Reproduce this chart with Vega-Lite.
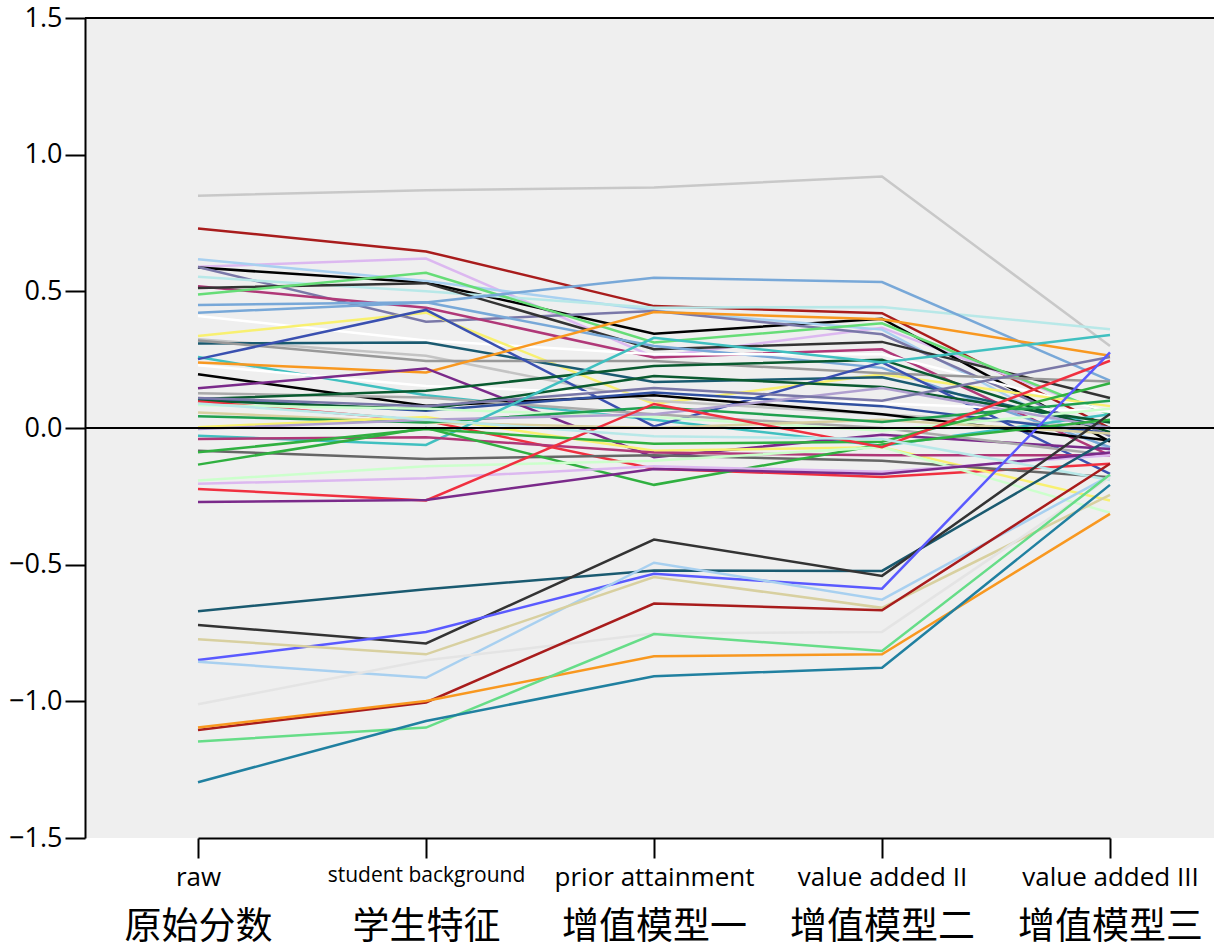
{
  "$schema": "https://vega.github.io/schema/vega-lite/v6.json",
  "width": 1129,
  "height": 820,
  "autosize": "none",
  "padding": {"left": 85, "top": 18, "right": 0, "bottom": 110},
  "background": "white",
  "config": {"view": {"fill": "#efefef", "stroke": null}, "font": "Open Sans"},
  "data": {"values": [
    {"s":"c01","raw":0.85,"student background":0.87,"prior attainment":0.88,"value added II":0.92,"value added III":0.30},
    {"s":"c02","raw":0.73,"student background":0.646,"prior attainment":0.446,"value added II":0.42,"value added III":0.0},
    {"s":"c03","raw":0.59,"student background":0.62,"prior attainment":0.26,"value added II":0.367,"value added III":0.05},
    {"s":"c04","raw":0.587,"student background":0.532,"prior attainment":0.345,"value added II":0.40,"value added III":-0.05},
    {"s":"c05","raw":0.617,"student background":0.538,"prior attainment":0.43,"value added II":0.36,"value added III":-0.08},
    {"s":"c06","raw":0.589,"student background":0.389,"prior attainment":0.428,"value added II":0.343,"value added III":-0.03},
    {"s":"c07","raw":0.553,"student background":0.50,"prior attainment":0.44,"value added II":0.443,"value added III":0.361},
    {"s":"c08","raw":0.519,"student background":0.44,"prior attainment":0.258,"value added II":0.288,"value added III":-0.10},
    {"s":"c09","raw":0.512,"student background":0.53,"prior attainment":0.288,"value added II":0.315,"value added III":0.11},
    {"s":"c10","raw":0.488,"student background":0.568,"prior attainment":0.313,"value added II":0.383,"value added III":0.05},
    {"s":"c11","raw":0.422,"student background":0.459,"prior attainment":0.55,"value added II":0.534,"value added III":0.173},
    {"s":"c12","raw":0.45,"student background":0.46,"prior attainment":0.30,"value added II":0.22,"value added III":-0.07},
    {"s":"c13","raw":0.41,"student background":0.32,"prior attainment":0.27,"value added II":0.27,"value added III":0.06},
    {"s":"c14","raw":0.337,"student background":0.422,"prior attainment":0.088,"value added II":0.197,"value added III":0.08},
    {"s":"c15","raw":0.325,"student background":0.264,"prior attainment":0.10,"value added II":0.05,"value added III":0.0},
    {"s":"c16","raw":0.309,"student background":0.313,"prior attainment":0.168,"value added II":0.186,"value added III":0.0},
    {"s":"c17","raw":0.32,"student background":0.245,"prior attainment":0.245,"value added II":0.2,"value added III":0.17},
    {"s":"c18","raw":0.26,"student background":0.12,"prior attainment":0.03,"value added II":-0.065,"value added III":0.05},
    {"s":"c19","raw":0.252,"student background":0.432,"prior attainment":0.006,"value added II":0.24,"value added III":-0.168},
    {"s":"c20","raw":0.24,"student background":0.203,"prior attainment":0.424,"value added II":0.398,"value added III":0.264},
    {"s":"c21","raw":0.23,"student background":0.154,"prior attainment":0.12,"value added II":0.09,"value added III":0.06},
    {"s":"c22","raw":0.197,"student background":0.081,"prior attainment":0.12,"value added II":0.05,"value added III":-0.046},
    {"s":"c23","raw":0.145,"student background":0.218,"prior attainment":-0.107,"value added II":-0.025,"value added III":-0.077},
    {"s":"c24","raw":0.127,"student background":0.112,"prior attainment":0.05,"value added II":0.0,"value added III":-0.1},
    {"s":"c25","raw":0.106,"student background":0.136,"prior attainment":0.227,"value added II":0.25,"value added III":-0.015},
    {"s":"c26","raw":0.108,"student background":0.063,"prior attainment":0.13,"value added II":0.08,"value added III":-0.02},
    {"s":"c27","raw":0.10,"student background":0.069,"prior attainment":0.19,"value added II":0.15,"value added III":0.02},
    {"s":"c28","raw":0.097,"student background":0.027,"prior attainment":-0.149,"value added II":-0.179,"value added III":-0.131},
    {"s":"c29","raw":0.084,"student background":0.07,"prior attainment":0.04,"value added II":-0.01,"value added III":0.07},
    {"s":"c30","raw":0.057,"student background":0.02,"prior attainment":0.0,"value added II":0.03,"value added III":-0.02},
    {"s":"c31","raw":0.043,"student background":0.02,"prior attainment":0.076,"value added II":0.022,"value added III":0.10},
    {"s":"c32","raw":0.003,"student background":0.04,"prior attainment":-0.083,"value added II":-0.07,"value added III":-0.265},
    {"s":"c33","raw":-0.004,"student background":0.03,"prior attainment":0.05,"value added II":0.146,"value added III":0.0},
    {"s":"c34","raw":0.11,"student background":0.08,"prior attainment":0.146,"value added II":0.10,"value added III":0.26},
    {"s":"c35","raw":-0.028,"student background":-0.062,"prior attainment":0.33,"value added II":0.24,"value added III":0.34},
    {"s":"c36","raw":-0.04,"student background":-0.034,"prior attainment":-0.09,"value added II":-0.1,"value added III":-0.1},
    {"s":"c37","raw":-0.083,"student background":-0.113,"prior attainment":-0.1,"value added II":-0.12,"value added III":-0.18},
    {"s":"c38","raw":-0.089,"student background":-0.004,"prior attainment":-0.058,"value added II":-0.05,"value added III":0.164},
    {"s":"c39","raw":-0.134,"student background":0.0,"prior attainment":-0.208,"value added II":-0.06,"value added III":0.03},
    {"s":"c40","raw":-0.192,"student background":-0.14,"prior attainment":-0.12,"value added II":-0.07,"value added III":-0.31},
    {"s":"c41","raw":-0.204,"student background":-0.184,"prior attainment":-0.14,"value added II":-0.16,"value added III":-0.1},
    {"s":"c42","raw":-0.223,"student background":-0.265,"prior attainment":0.088,"value added II":-0.07,"value added III":0.246},
    {"s":"c43","raw":-0.271,"student background":-0.263,"prior attainment":-0.15,"value added II":-0.168,"value added III":-0.09},
    {"s":"c44","raw":0.09,"student background":0.03,"prior attainment":-0.03,"value added II":-0.04,"value added III":-0.19},
    {"s":"c45","raw":-0.67,"student background":-0.59,"prior attainment":-0.521,"value added II":-0.523,"value added III":-0.04},
    {"s":"c46","raw":-0.721,"student background":-0.788,"prior attainment":-0.408,"value added II":-0.541,"value added III":0.051},
    {"s":"c47","raw":-0.849,"student background":-0.746,"prior attainment":-0.533,"value added II":-0.588,"value added III":0.277},
    {"s":"c48","raw":-0.855,"student background":-0.914,"prior attainment":-0.493,"value added II":-0.628,"value added III":-0.174},
    {"s":"c49","raw":-0.773,"student background":-0.828,"prior attainment":-0.545,"value added II":-0.658,"value added III":-0.245},
    {"s":"c50","raw":-1.011,"student background":-0.85,"prior attainment":-0.752,"value added II":-0.746,"value added III":-0.18},
    {"s":"c51","raw":-1.105,"student background":-1.004,"prior attainment":-0.642,"value added II":-0.667,"value added III":-0.131},
    {"s":"c52","raw":-1.096,"student background":-0.999,"prior attainment":-0.835,"value added II":-0.828,"value added III":-0.314},
    {"s":"c53","raw":-1.147,"student background":-1.096,"prior attainment":-0.754,"value added II":-0.816,"value added III":-0.17},
    {"s":"c54","raw":-1.296,"student background":-1.072,"prior attainment":-0.908,"value added II":-0.877,"value added III":-0.208}
  ]},
  "transform": [{"fold": ["raw","student background","prior attainment","value added II","value added III"], "as": ["m","v"]}],
  "layer": [
    {
      "mark": {"type": "line", "strokeWidth": 2.5},
      "encoding": {
        "x": {"field": "m", "type": "ordinal", "sort": ["raw","student background","prior attainment","value added II","value added III"],
              "scale": {"type": "point", "range": [113, 1025], "padding": 0},
              "axis": {"orient": "bottom", "title": null, "labelAngle": 0, "labelLimit": 0, "labelFontSize": {"condition": {"test": "datum.value == 'student background'", "value": 21}, "value": 26},
                       "labelColor": "black", "labelPadding": 6, "labelOverlap": false, "labelFlush": false,
                       "domainColor": "black", "domainWidth": 2, "tickColor": "black", "tickWidth": 2, "tickSize": 20}},
        "y": {"field": "v", "type": "quantitative", "scale": {"domain": [-1.5, 1.5], "nice": false},
              "axis": {"title": null, "values": [-1.5,-1,-0.5,0,0.5,1,1.5], "format": ".1f", "grid": false, "labelFontSize": 27, "labelColor": "black",
                       "labelPadding": 3, "domainColor": "black", "domainWidth": 2, "tickColor": "black", "tickWidth": 2, "tickSize": 20}},
        "color": {"field": "s", "type": "nominal", "legend": null,
                  "scale": {"domain": ["c01","c02","c03","c04","c05","c06","c07","c08","c09","c10","c11","c12","c13","c14","c15","c16","c17","c18","c19","c20","c21","c22","c23","c24","c25","c26","c27","c28","c29","c30","c31","c32","c33","c34","c35","c36","c37","c38","c39","c40","c41","c42","c43","c44","c45","c46","c47","c48","c49","c50","c51","c52","c53","c54"],
                            "range": ["#c8c8c8","#a81c1c","#dcb8f0","#000000","#a8d0f0","#7a78a8","#b8e8e8","#b03878","#333333","#66dd77","#78a8d8","#78a8d8","#ffffff","#f8f070","#c4c4c4","#1a5a70","#999999","#40c0c0","#3a50b0","#f89820","#ffffff","#000000","#7a2a8a","#aaaaaa","#0a5a30","#3050a0","#0a5a30","#f03040","#ccffcc","#d8d0a0","#20a050","#f8f070","#b0a0d0","#7a78a8","#40c0c0","#b03878","#666666","#30b040","#30b040","#ccffcc","#dcb8f0","#f03040","#7a2a8a","#b8e8e8","#1a5a70","#333333","#5a5aff","#a8d0f0","#d8d0a0","#e4e4e4","#a81c1c","#f89820","#66dd88","#2080a0"]}}
      }
    },
    {
      "mark": {"type": "point", "opacity": 0},
      "encoding": {
        "x": {"field": "m", "type": "ordinal", "sort": ["raw","student background","prior attainment","value added II","value added III"],
              "axis": {"orient": "bottom", "title": null, "labelAngle": 0, "labelLimit": 0, "labelFont": "Noto Sans CJK SC", "labelFontSize": 37, "labelColor": "black",
                       "labelExpr": "datum.value == 'raw' ? '原始分数' : datum.value == 'student background' ? '学生特征' : datum.value == 'prior attainment' ? '增值模型一' : datum.value == 'value added II' ? '增值模型二' : '增值模型三'",
                       "labelPadding": 51, "labelOverlap": false, "labelFlush": false, "domain": false, "tickOpacity": 0, "tickSize": 20}}
      }
    },
    {
      "mark": {"type": "rule", "color": "black", "strokeWidth": 1.5},
      "encoding": {"y": {"datum": 0}}
    },
    {
      "mark": {"type": "rule", "color": "black", "strokeWidth": 2},
      "encoding": {"y": {"datum": 1.5}}
    }
  ],
  "resolve": {"axis": {"x": "independent"}}
}
